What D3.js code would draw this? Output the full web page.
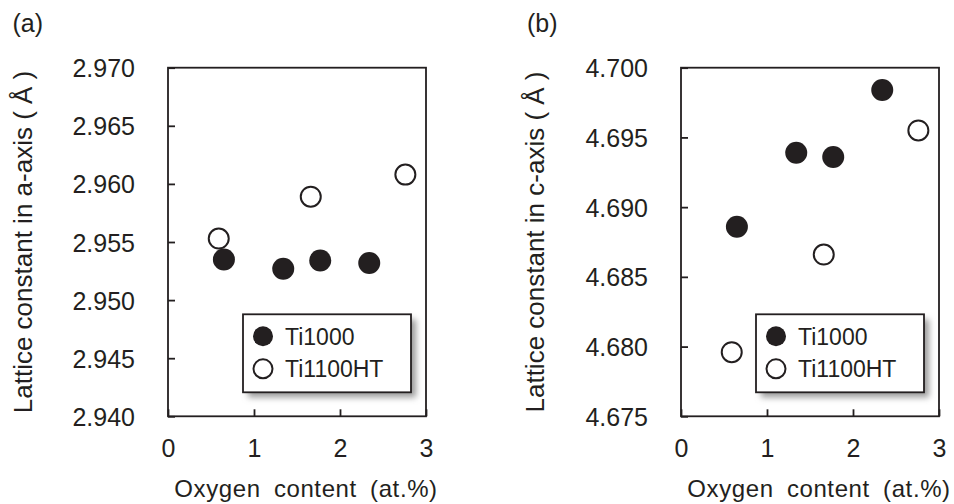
<!DOCTYPE html>
<html>
<head>
<meta charset="utf-8">
<script src="https://cdn.jsdelivr.net/npm/d3@7"></script>
<style>
  body { margin: 0; background: #fff; }
  svg text { font-family: "Liberation Sans", Arial, sans-serif; fill: #231f20; }
</style>
</head>
<body>
<div id="chart"></div>
<script>
// oxygen content (at.%) of each sample
var oxygenTi1000 = [0.65, 1.34, 1.77, 2.34];
var oxygenTi1100HT = [0.59, 1.66, 2.76];

// lattice constants
var aTi1000 = [2.9535, 2.9527, 2.9534, 2.9532];
var aTi1100HT = [2.9553, 2.9589, 2.9608];
var cTi1000 = [4.6886, 4.6939, 4.6936, 4.6984];
var cTi1100HT = [4.6796, 4.6866, 4.6955];

var xTicks = [0, 1, 2, 3];
var aTicks = [2.940, 2.945, 2.950, 2.955, 2.960, 2.965, 2.970];
var cTicks = [4.675, 4.680, 4.685, 4.690, 4.695, 4.700];
var seriesNames = ["Ti1000", "Ti1100HT"];

var w = 954, h = 504;
var ink = "#231f20";

var svg = d3.select("#chart").append("svg").attr("width", w).attr("height", h);

// soft shadow for the legend box
var defs = svg.append("defs");
defs.append("filter").attr("id", "blur").attr("x", "-20%").attr("y", "-20%")
    .attr("width", "150%").attr("height", "150%")
    .append("feGaussianBlur").attr("stdDeviation", 3);

function panel(opt) {
    var left = opt.left, right = opt.left + 258, top = 67.7, bottom = 416.3;
    var xScale = d3.scaleLinear().domain([0, 3]).range([left, right]);
    var yScale = d3.scaleLinear().domain(opt.yDomain).range([bottom, top]);

    var g = svg.append("g");

    // x axis, ticks pointing in
    var xAxis = d3.axisBottom(xScale).tickValues(xTicks).tickFormat(d3.format("d"))
        .tickSizeInner(-7).tickSizeOuter(0).tickPadding(23);
    var gx = g.append("g").attr("transform", "translate(0," + bottom + ")").call(xAxis);
    gx.select(".domain").remove();
    gx.selectAll("line").attr("stroke", ink).attr("stroke-width", 1.8);
    gx.selectAll("text").style("font-size", "25px").attr("fill", ink);

    // y axis
    var yAxis = d3.axisLeft(yScale).tickValues(opt.yTicks).tickFormat(d3.format(".3f"))
        .tickSizeInner(-7).tickSizeOuter(0).tickPadding(33);
    var gy = g.append("g").attr("transform", "translate(" + left + ",0)").call(yAxis);
    gy.select(".domain").remove();
    gy.selectAll("line").attr("stroke", ink).attr("stroke-width", 1.8);
    gy.selectAll("text").style("font-size", "25px").attr("fill", ink).attr("dy", "0.36em");

    // frame
    g.append("rect").attr("x", left).attr("y", top).attr("width", right - left).attr("height", bottom - top)
        .attr("fill", "none").attr("stroke", ink).attr("stroke-width", 1.8);

    // points
    g.selectAll(".open").data(d3.zip(oxygenTi1100HT, opt.open)).enter().append("circle")
        .attr("cx", function(d) { return xScale(d[0]); })
        .attr("cy", function(d) { return yScale(d[1]); })
        .attr("r", 10).attr("fill", "#fff").attr("stroke", ink).attr("stroke-width", 2);
    g.selectAll(".filled").data(d3.zip(oxygenTi1000, opt.filled)).enter().append("circle")
        .attr("cx", function(d) { return xScale(d[0]); })
        .attr("cy", function(d) { return yScale(d[1]); })
        .attr("r", 11).attr("fill", ink);

    // legend
    var lw = 168, lh = 78;
    var lx = right - 15 - lw, ly = bottom - 24 - lh;
    g.append("rect").attr("x", lx + 5).attr("y", ly + 5).attr("width", lw).attr("height", lh)
        .attr("fill", "#9a9a9a").attr("filter", "url(#blur)");
    g.append("rect").attr("x", lx).attr("y", ly).attr("width", lw).attr("height", lh)
        .attr("fill", "#fff").attr("stroke", ink).attr("stroke-width", 1.8);
    seriesNames.forEach(function(name, i) {
        var cy = ly + 22 + i * 32.5;
        var c = g.append("circle").attr("cx", lx + 20).attr("cy", cy);
        if (i === 0) c.attr("r", 10).attr("fill", ink);
        else c.attr("r", 9.5).attr("fill", "#fff").attr("stroke", ink).attr("stroke-width", 2);
        g.append("text").attr("x", lx + 42).attr("y", cy + 8.5).style("font-size", "23px").text(name);
    });

    // titles
    g.append("text").attr("x", (left + right) / 2 + 9).attr("y", 497).attr("text-anchor", "middle")
        .style("font-size", "24px").style("letter-spacing", "0.6px").style("word-spacing", "6px")
        .text("Oxygen content (at.%)");
    g.append("text").attr("transform", "translate(" + opt.titleX + ",242) rotate(-90)")
        .attr("text-anchor", "middle").style("font-size", "26px")
        .text(opt.yTitle);
    g.append("text").attr("x", opt.labelX).attr("y", 32).style("font-size", "25px").text(opt.label);
}

panel({
    left: 168, yDomain: [2.940, 2.970], yTicks: aTicks,
    filled: aTi1000, open: aTi1100HT,
    yTitle: "Lattice constant in a-axis ( Å )", titleX: 31.5,
    label: "(a)", labelX: 12.5
});
panel({
    left: 681, yDomain: [4.675, 4.700], yTicks: cTicks,
    filled: cTi1000, open: cTi1100HT,
    yTitle: "Lattice constant in c-axis ( Å )", titleX: 543.5,
    label: "(b)", labelX: 527
});
</script>
</body>
</html>
